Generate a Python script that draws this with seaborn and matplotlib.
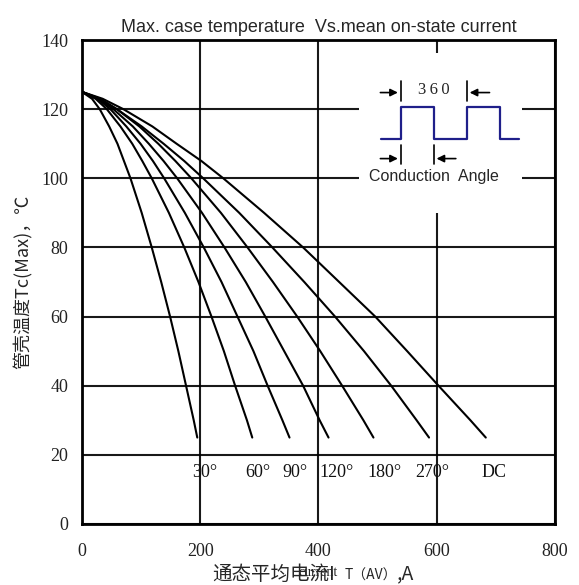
import pandas as pd
import matplotlib
matplotlib.use("Agg")
import matplotlib.pyplot as plt
import seaborn as sns
from matplotlib.patches import Rectangle

sns.set_style('white')
plt.rcParams['font.family'] = ['Liberation Serif', 'Noto Sans CJK SC', 'DejaVu Sans']
cjk = ['Noto Sans CJK SC', 'Liberation Serif']

temps = [125, 123, 120, 115, 110, 105, 100, 90, 80, 70, 60, 50, 40, 30, 25]

# mean on-state current (A) for each conduction angle
angles = ['30°', '60°', '90°', '120°', '180°', '270°', 'DC']
cur_30 = [0, 17, 30, 46, 60, 71, 82, 101, 118, 134, 149, 163, 176, 189, 195]
cur_60 = [0, 23, 42, 65, 85, 102, 118, 147, 173, 197, 219, 240, 259, 279, 288]
cur_90 = [0, 26, 48, 75, 99, 120, 139, 174, 206, 236, 263, 290, 314, 339, 351]
cur_120 = [0, 28, 53, 86, 113, 138, 161, 203, 241, 277, 310, 342, 374, 402, 417]
cur_180 = [0, 31, 59, 97, 129, 158, 185, 235, 280, 323, 364, 403, 440, 476, 493]
cur_270 = [0, 29, 59, 101, 138, 173, 205, 266, 322, 376, 428, 477, 523, 566, 587]
cur_dc = [0, 35, 70, 119, 160, 202, 239, 308, 374, 435, 496, 550, 603, 657, 683]
label_x = [208, 297, 361, 430, 512, 593, 697]
label_y = 15

# square wave in the inset
wave_x = [506, 539, 539, 595, 595, 651, 651, 707, 707, 740]
wave_y = [111.3, 111.3, 120.7, 120.7, 111.3, 111.3, 120.7, 120.7, 111.3, 111.3]

rows = []
for name, vals in zip(angles, [cur_30, cur_60, cur_90, cur_120, cur_180, cur_270, cur_dc]):
    for t, c in zip(temps, vals):
        rows.append({'angle': name, 'current': c, 'temp': t})
df = pd.DataFrame(rows)

fig = plt.figure(figsize=(5.79, 5.85), dpi=100)
ax = fig.add_axes([0.1416, 0.1043, 0.8169, 0.8273])

sns.lineplot(data=df, x='current', y='temp', units='angle', estimator=None,
             sort=False, color='black', linewidth=1.5, ax=ax, legend=False)

ax.set_xlim(0, 800)
ax.set_ylim(0, 140)
ax.set_xticks(range(0, 801, 200))
ax.set_yticks(range(0, 141, 20))
ax.grid(True, color='black', linewidth=1.5, alpha=0.9)
ax.set_axisbelow(True)
for s in ax.spines.values():
    s.set_color('black')
    s.set_linewidth(2)
ax.tick_params(axis='both', length=0, labelsize=13, colors='#222222')
ax.tick_params(axis='x', pad=14)
ax.tick_params(axis='y', pad=10)

# curve labels
for name, lx in zip(angles, label_x):
    ax.text(lx, label_y, name, ha='center', va='center', fontsize=13,
            family='Liberation Serif', color='#111111')

# inset with the conduction angle sketch
ax.add_patch(Rectangle((468, 90.1), 276, 46, facecolor='white', edgecolor='none', zorder=1.5))
ax.plot(wave_x, wave_y, color='#1f1f8a', linewidth=1.6, zorder=3)
for xv in [539, 651]:
    ax.plot([xv, xv], [122.4, 128.2], color='black', linewidth=1.2, zorder=3)
for xv in [539, 595]:
    ax.plot([xv, xv], [104, 109.6], color='black', linewidth=1.2, zorder=3)
arrow = dict(arrowstyle='-|>', color='black', linewidth=1.2, mutation_scale=11)
ax.annotate('', xy=(539, 124.8), xytext=(500, 124.8), arrowprops=arrow, zorder=3)
ax.annotate('', xy=(651, 124.8), xytext=(694, 124.8), arrowprops=arrow, zorder=3)
ax.annotate('', xy=(539, 105.7), xytext=(500, 105.7), arrowprops=arrow, zorder=3)
ax.annotate('', xy=(595, 105.7), xytext=(637, 105.7), arrowprops=arrow, zorder=3)
ax.text(595, 125.6, '3\u20096\u20090', ha='center', va='center', fontsize=12,
        family='Liberation Serif', zorder=3)
ax.text(596, 100.6, 'Conduction  Angle', ha='center', va='center', fontsize=11.5,
        family='Liberation Sans', zorder=4,
        bbox=dict(facecolor='white', edgecolor='none', pad=1))

ax.set_title('Max. case temperature  Vs.mean on-state current', fontsize=13,
             family='Liberation Sans', pad=6)
ax.set_ylabel('管壳温度Tc(Max)，℃', fontsize=13, labelpad=6, family=cjk)

# x label in pieces, the T(AV) part smaller
base_y = -0.1147
ax.text(0.2748, base_y, '通态平均电流I', transform=ax.transAxes, ha='left',
        va='baseline', fontsize=14, family=cjk, clip_on=False)
ax.text(0.555, base_y, 'T（AV）', transform=ax.transAxes, ha='left',
        va='baseline', fontsize=10, family=cjk, clip_on=False)
ax.text(0.665, base_y, ',A', transform=ax.transAxes, ha='left',
        va='baseline', fontsize=14, family=cjk, clip_on=False)

fig.savefig('out.png', dpi=100)
